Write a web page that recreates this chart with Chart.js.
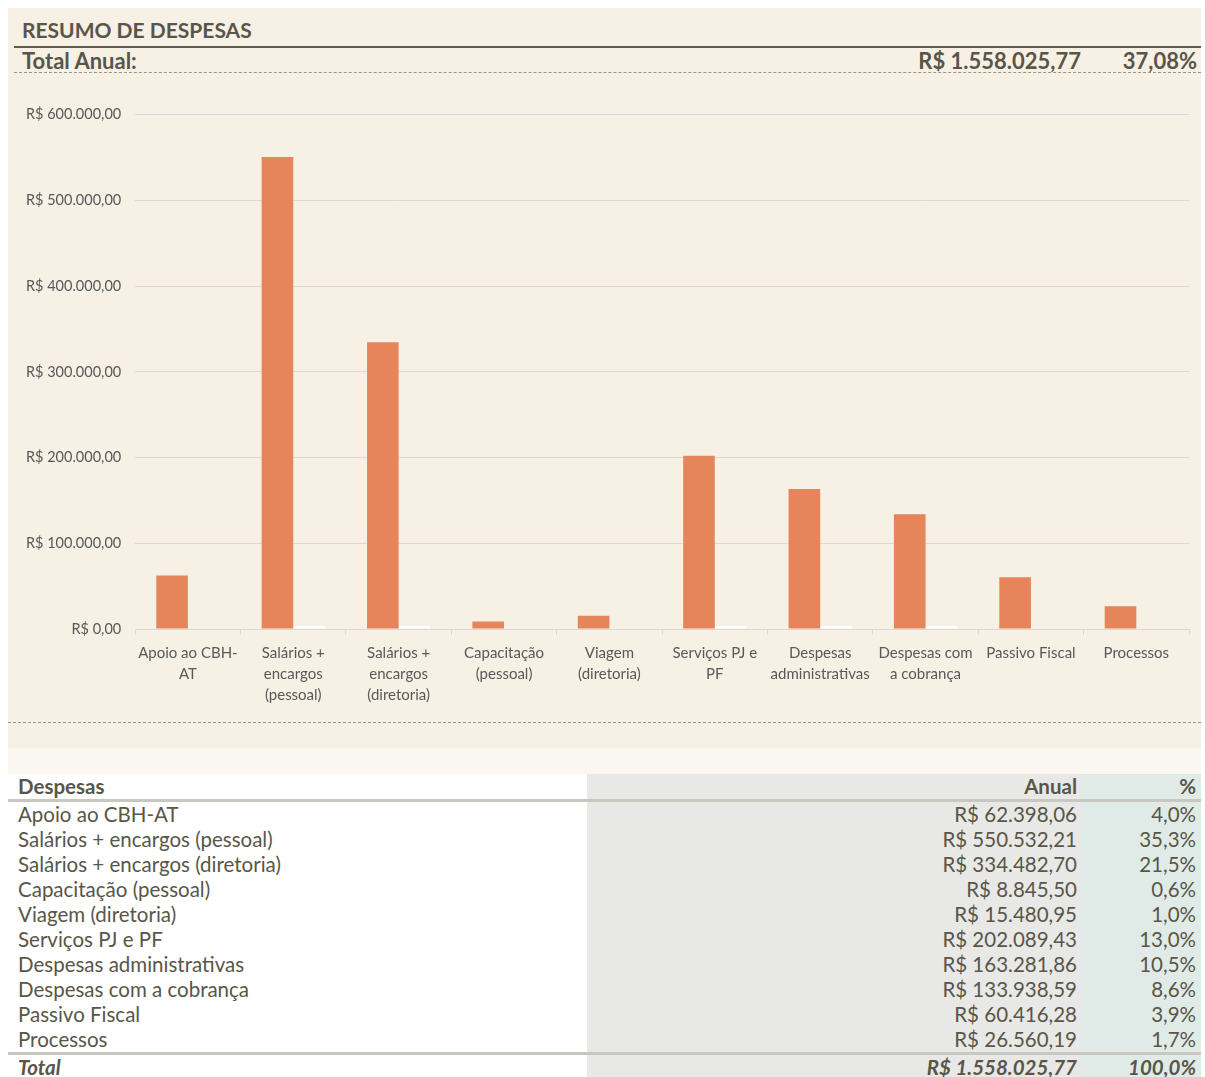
<!DOCTYPE html>
<html lang="pt-BR">
<head>
<meta charset="utf-8">
<script src="https://cdn.jsdelivr.net/npm/chart.js@4.4.1/dist/chart.umd.min.js"></script>
<style>
  body { margin: 0; background: #fff; font-family: Lato, "Open Sans", sans-serif; color: #595649; }
  #painel { position: absolute; left: 8px; top: 8px; width: 1193px; height: 740px; background: #f6f0e5; }
  #faixa { position: absolute; left: 8px; top: 748px; width: 1193px; height: 26px; background: #faf7f0; }
  .titulo { position: absolute; left: 14px; top: 9px; font-size: 21px; font-weight: bold; }
  .linhaTitulo { position: absolute; left: 6px; top: 38px; width: 1187px; height: 2px; background: #5f5b4f; }
  .totalAnual { position: absolute; left: 6px; top: 40px; width: 1187px; height: 24px; font-size: 22px; font-weight: bold;
                line-height: 26px; border-bottom: 1px dashed #9a968c; }
  .totalAnual span { position: absolute; top: 0; }
  .linhaBaixo { position: absolute; left: 0; top: 714px; width: 1193px; border-bottom: 1px dashed #9a968c; }
  #grafico { position: absolute; left: 0; top: 84px; width: 1193px; height: 628px; }
  table { position: absolute; left: 8px; top: 774px; width: 1193px; border-collapse: collapse; font-size: 20.5px; }
  td { padding: 0 4px 0 10px; height: 25px; line-height: 25px; white-space: nowrap; }
  td.anual { background: #e8e8e6; text-align: right; width: 480px; }
  td.pct { background: #e0ebe7; text-align: right; width: 105px; padding-right: 5px; }
  tr.cab td { font-weight: bold; border-bottom: 3px solid #c8c8c0; }
  tr.tot td { font-weight: bold; font-style: italic; border-top: 3px solid #c8c8c0; }
</style>
</head>
<body>
<div id="painel">
  <div class="titulo">RESUMO DE DESPESAS</div>
  <div class="linhaTitulo"></div>
  <div class="totalAnual">
    <span style="left:8px">Total Anual:</span>
    <span style="right:120px">R$ 1.558.025,77</span>
    <span style="right:4px">37,08%</span>
  </div>
  <div id="grafico"><canvas id="despesasChart"></canvas></div>
  <div class="linhaBaixo"></div>
</div>
<div id="faixa"></div>
<table id="tabela"></table>

<script>
const categorias = ['Apoio ao CBH-AT', 'Salários + encargos (pessoal)', 'Salários + encargos (diretoria)',
  'Capacitação (pessoal)', 'Viagem (diretoria)', 'Serviços PJ e PF', 'Despesas administrativas',
  'Despesas com a cobrança', 'Passivo Fiscal', 'Processos'];
const rotulosEixo = [['Apoio ao CBH-', 'AT'], ['Salários +', 'encargos', '(pessoal)'], ['Salários +', 'encargos', '(diretoria)'],
  ['Capacitação', '(pessoal)'], ['Viagem', '(diretoria)'], ['Serviços PJ e', 'PF'], ['Despesas', 'administrativas'],
  ['Despesas com', 'a cobrança'], 'Passivo Fiscal', 'Processos'];
const valoresAnuais = [62398.06, 550532.21, 334482.70, 8845.50, 15480.95, 202089.43, 163281.86, 133938.59, 60416.28, 26560.19];
const percentuais = [4.0, 35.3, 21.5, 0.6, 1.0, 13.0, 10.5, 8.6, 3.9, 1.7];
const totalAnual = 1558025.77;
const ticksY = [0, 100000, 200000, 300000, 400000, 500000, 600000];

const moeda = v => 'R$ ' + v.toLocaleString('pt-BR', { minimumFractionDigits: 2, maximumFractionDigits: 2 });
const pct = v => v.toLocaleString('pt-BR', { minimumFractionDigits: 1, maximumFractionDigits: 1 }) + '%';

// Tabela de despesas
const tabela = document.getElementById('tabela');
let html = '<tr class="cab"><td>Despesas</td><td class="anual">Anual</td><td class="pct">%</td></tr>';
categorias.forEach((c, i) => {
  html += `<tr><td>${c}</td><td class="anual">${moeda(valoresAnuais[i])}</td><td class="pct">${pct(percentuais[i])}</td></tr>`;
});
html += `<tr class="tot"><td>Total</td><td class="anual">${moeda(totalAnual)}</td><td class="pct">${pct(100)}</td></tr>`;
tabela.innerHTML = html;

// Gráfico
new Chart(document.getElementById('despesasChart'), {
  type: 'bar',
  data: {
    labels: rotulosEixo,
    datasets: [{
      label: 'Anual',
      data: valoresAnuais,
      backgroundColor: '#e6855a',
      categoryPercentage: 0.6,
      barPercentage: 1.0
    }, {
      label: '%',
      data: percentuais,
      backgroundColor: ctx => (ctx.raw >= 5 ? '#ffffff' : 'rgba(0,0,0,0)'),
      minBarLength: 3,
      categoryPercentage: 0.6,
      barPercentage: 1.0
    }]
  },
  options: {
    responsive: true,
    maintainAspectRatio: false,
    animation: false,
    layout: { padding: { left: 4, right: 12, top: 20, bottom: 6 } },
    plugins: { legend: { display: false }, tooltip: { enabled: false } },
    scales: {
      x: {
        grid: { display: true, drawOnChartArea: false, offset: true, color: '#d9d9d9', tickLength: 6 },
        border: { color: '#d9d9d9' },
        ticks: { color: '#595959', font: { family: 'Lato', size: 15, lineHeight: 1.4 }, maxRotation: 0, autoSkip: false, padding: 8 }
      },
      y: {
        min: 0, max: 600000,
        afterBuildTicks: axis => { axis.ticks = ticksY.map(v => ({ value: v })); },
        grid: { color: '#d9d9d9', drawTicks: false },
        border: { display: false },
        ticks: { color: '#595959', font: { family: 'Lato', size: 14.5 }, padding: 14, callback: v => moeda(v) }
      }
    }
  }
});
</script>
</body>
</html>
